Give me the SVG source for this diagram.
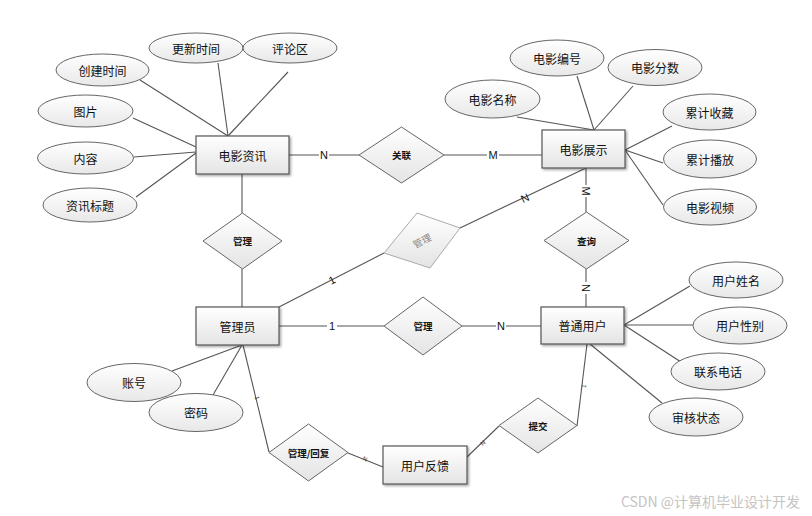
<svg xmlns="http://www.w3.org/2000/svg" width="812" height="516" viewBox="0 0 812 516">
<defs>
<linearGradient id="g" x1="0" y1="0" x2="0" y2="1"><stop offset="0" stop-color="#ffffff"/><stop offset="1" stop-color="#e4e4e4"/></linearGradient>
<linearGradient id="ge" x1="0" y1="0" x2="0" y2="1"><stop offset="0" stop-color="#ffffff"/><stop offset="1" stop-color="#e8e8e8"/></linearGradient>
<filter id="sh" x="-10%" y="-10%" width="130%" height="140%"><feDropShadow dx="1.5" dy="1.5" stdDeviation="0.8" flood-color="#000" flood-opacity="0.35"/></filter>
</defs>
<style>
.ent{fill:url(#g);stroke:#555;stroke-width:1.2;filter:url(#sh)}
.att{fill:url(#ge);stroke:#666;stroke-width:1}
.rel{fill:url(#g);stroke:#666;stroke-width:1}
.rel2{fill:url(#g);stroke:#aaa;stroke-width:1}
.ln{stroke:#555;stroke-width:1.1;fill:none}
.t{font-family:"Noto Sans CJK SC","Liberation Sans",sans-serif;font-size:12px;fill:#111;text-anchor:middle;dominant-baseline:central}
.tr{font-family:"Noto Sans CJK SC","Liberation Sans",sans-serif;font-size:9.5px;fill:#111;text-anchor:middle;dominant-baseline:central;font-weight:bold}
.lb{font-family:"Liberation Sans",Arial,sans-serif;font-size:11px;fill:#111;text-anchor:middle;dominant-baseline:central}
.lbs{font-family:"Liberation Sans",Arial,sans-serif;font-size:6px;fill:#333;text-anchor:middle;dominant-baseline:central}
.bg{fill:#fff}
</style>
<rect width="812" height="516" fill="#fff"/>
<g id="connectors">
<line class="ln" x1="289" y1="155" x2="359" y2="155"/>
<line class="ln" x1="444" y1="155" x2="542" y2="155"/>
<line class="ln" x1="242" y1="174" x2="242" y2="213"/>
<line class="ln" x1="242" y1="269" x2="242" y2="307"/>
<line class="ln" x1="279" y1="307" x2="384" y2="253"/>
<line class="ln" x1="460" y1="228" x2="586" y2="168"/>
<line class="ln" x1="586" y1="168" x2="586" y2="212"/>
<line class="ln" x1="586" y1="269" x2="586" y2="307"/>
<line class="ln" x1="279" y1="326" x2="384" y2="326"/>
<line class="ln" x1="462" y1="326" x2="541" y2="326"/>
<line class="ln" x1="587" y1="344" x2="577" y2="426"/>
<line class="ln" x1="499" y1="426" x2="467" y2="457"/>
<line class="ln" x1="243" y1="345" x2="269" y2="452"/>
<line class="ln" x1="348" y1="453" x2="383" y2="467"/>
<line class="ln" x1="242" y1="345" x2="172" y2="371"/>
<line class="ln" x1="242" y1="345" x2="213" y2="395"/>
<line class="ln" x1="624" y1="325" x2="690" y2="286"/>
<line class="ln" x1="624" y1="325" x2="693" y2="325"/>
<line class="ln" x1="624" y1="325" x2="681" y2="362"/>
<line class="ln" x1="590" y1="344" x2="662" y2="403"/>
<line class="ln" x1="140" y1="80" x2="228" y2="136"/>
<line class="ln" x1="218" y1="63" x2="228" y2="136"/>
<line class="ln" x1="288" y1="72" x2="228" y2="136"/>
<line class="ln" x1="133" y1="118" x2="196" y2="147"/>
<line class="ln" x1="134" y1="157" x2="196" y2="152"/>
<line class="ln" x1="136" y1="197" x2="196" y2="153"/>
<line class="ln" x1="517" y1="117" x2="594" y2="130"/>
<line class="ln" x1="577" y1="76" x2="594" y2="130"/>
<line class="ln" x1="633" y1="86" x2="594" y2="130"/>
<line class="ln" x1="625" y1="150" x2="672" y2="126"/>
<line class="ln" x1="625" y1="150" x2="663" y2="163"/>
<line class="ln" x1="625" y1="150" x2="663" y2="205"/>
<g id="labels">
<rect class="bg" x="319" y="149" width="10" height="12"/><text class="lb" x="324" y="155">N</text>
<rect class="bg" x="487" y="149" width="12" height="12"/><text class="lb" x="493" y="155">M</text>
<text class="lb" x="332" y="280" transform="rotate(-27 332 280)">1</text>
<text class="lb" x="525" y="198" transform="rotate(-25 525 198)">N</text>
<rect class="bg" x="580" y="185" width="12" height="12"/><text class="lb" x="586" y="191" transform="rotate(90 586 191)">M</text>
<rect class="bg" x="580" y="282" width="12" height="12"/><text class="lb" x="586" y="288" transform="rotate(90 586 288)">N</text>
<rect class="bg" x="327" y="320" width="10" height="12"/><text class="lb" x="332" y="326">1</text>
<rect class="bg" x="496" y="320" width="10" height="12"/><text class="lb" x="501" y="326">N</text>
<text class="lbs" x="584" y="386" transform="rotate(-83 584 386)">1</text>
<text class="lbs" x="483" y="443" transform="rotate(-44 483 443)">N</text>
<text class="lbs" x="257" y="398" transform="rotate(76 257 398)">1</text>
<text class="lbs" x="365" y="459" transform="rotate(22 365 459)">N</text>
</g>
</g>
<g id="e-dianyingzixun"><rect class="ent" x="196" y="136" width="93" height="38"/><text class="t" x="242.5" y="155">电影资讯</text></g>
<g id="e-dianyingzhanshi"><rect class="ent" x="542" y="130" width="83" height="38"/><text class="t" x="583.5" y="149">电影展示</text></g>
<g id="e-guanliyuan"><rect class="ent" x="196" y="307" width="83" height="38"/><text class="t" x="237.5" y="326">管理员</text></g>
<g id="e-putongyonghu"><rect class="ent" x="541" y="307" width="83" height="37"/><text class="t" x="582.5" y="325.5">普通用户</text></g>
<g id="e-yonghufankui"><rect class="ent" x="383" y="446" width="84" height="38"/><text class="t" x="425" y="465">用户反馈</text></g>
<g id="r-guanlian"><polygon class="rel" points="401.5,127 444,155 401.5,183 359,155"/><text class="tr" x="401.5" y="155">关联</text></g>
<g id="r-guanli1"><polygon class="rel" points="242.5,213 282,241 242.5,269 203,241"/><text class="tr" x="242.5" y="241">管理</text></g>
<g id="r-guanli2"><polygon class="rel2" points="417,213 460,228 430,268 384,253"/><text class="tr" x="422" y="240.5" style="fill:#888;font-weight:normal" transform="rotate(-27 422 240.5)">管理</text></g>
<g id="r-guanli3"><polygon class="rel" points="423,297 462,326 423,355 384,326"/><text class="tr" x="423" y="326">管理</text></g>
<g id="r-chaxun"><polygon class="rel" points="586.5,212 629,240.5 586.5,269 544,240.5"/><text class="tr" x="586.5" y="240.5">查询</text></g>
<g id="r-tijiao"><polygon class="rel" points="538,398 577,425.5 538,453 499,425.5"/><text class="tr" x="538" y="425.5">提交</text></g>
<g id="r-guanlihuifu"><polygon class="rel" points="308.5,424 348,452.5 308.5,481 269,452.5"/><text class="tr" x="308.5" y="452.5">管理/回复</text></g>
<g id="a-chuangjianshijian"><ellipse class="att" cx="102.5" cy="70" rx="46.5" ry="16"/><text class="t" x="102.5" y="70">创建时间</text></g>
<g id="a-gengxinshijian"><ellipse class="att" cx="196" cy="48" rx="47" ry="15"/><text class="t" x="196" y="48">更新时间</text></g>
<g id="a-pinglunqu"><ellipse class="att" cx="290" cy="48" rx="47" ry="15"/><text class="t" x="290" y="48">评论区</text></g>
<g id="a-tupian"><ellipse class="att" cx="85.5" cy="111" rx="47.5" ry="16"/><text class="t" x="85.5" y="111">图片</text></g>
<g id="a-neirong"><ellipse class="att" cx="85.5" cy="158" rx="48" ry="16"/><text class="t" x="85.5" y="158">内容</text></g>
<g id="a-zixunbiaoti"><ellipse class="att" cx="90" cy="205" rx="47" ry="17"/><text class="t" x="90" y="205">资讯标题</text></g>
<g id="a-dianyingbianhao"><ellipse class="att" cx="557" cy="58" rx="47" ry="18"/><text class="t" x="557" y="58">电影编号</text></g>
<g id="a-dianyingfenshu"><ellipse class="att" cx="655" cy="67.5" rx="47" ry="18"/><text class="t" x="655" y="67.5">电影分数</text></g>
<g id="a-dianyingmingcheng"><ellipse class="att" cx="492.5" cy="99" rx="47.5" ry="19"/><text class="t" x="492.5" y="99">电影名称</text></g>
<g id="a-leijishoucang"><ellipse class="att" cx="709.5" cy="112" rx="46.5" ry="18"/><text class="t" x="709.5" y="112">累计收藏</text></g>
<g id="a-leijibofang"><ellipse class="att" cx="710" cy="159" rx="46.5" ry="19"/><text class="t" x="710" y="159">累计播放</text></g>
<g id="a-dianyingshipin"><ellipse class="att" cx="710" cy="207" rx="46.5" ry="18"/><text class="t" x="710" y="207">电影视频</text></g>
<g id="a-yonghuxingming"><ellipse class="att" cx="736" cy="280" rx="47" ry="18"/><text class="t" x="736" y="280">用户姓名</text></g>
<g id="a-yonghuxingbie"><ellipse class="att" cx="740" cy="325.5" rx="47" ry="18.5"/><text class="t" x="740" y="325.5">用户性别</text></g>
<g id="a-lianxidianhua"><ellipse class="att" cx="718" cy="371.5" rx="47" ry="18.5"/><text class="t" x="718" y="371.5">联系电话</text></g>
<g id="a-shenhezhuangtai"><ellipse class="att" cx="696" cy="417" rx="47" ry="19"/><text class="t" x="696" y="417">审核状态</text></g>
<g id="a-zhanghao"><ellipse class="att" cx="134" cy="382.5" rx="47" ry="19"/><text class="t" x="134" y="382.5">账号</text></g>
<g id="a-mima"><ellipse class="att" cx="196" cy="412.5" rx="47" ry="19"/><text class="t" x="196" y="412.5">密码</text></g>
<text x="800" y="501" style="font-family:'Noto Sans CJK SC','Liberation Sans',sans-serif;font-size:14px;fill:#c4c4c4;text-anchor:end;dominant-baseline:central">CSDN @计算机毕业设计开发</text>
</svg>
